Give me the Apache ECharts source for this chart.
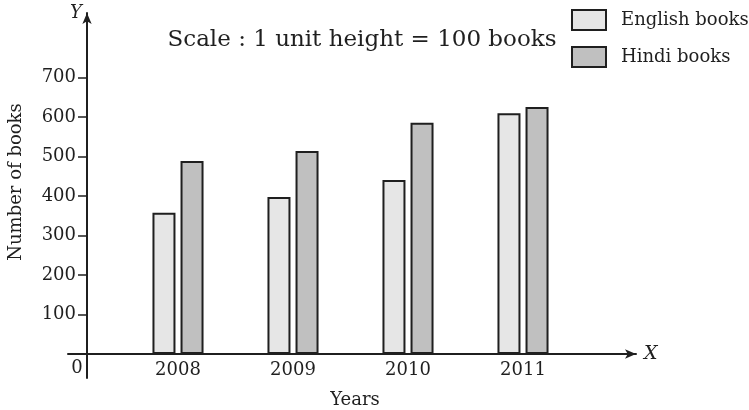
<!DOCTYPE html>
<html lang="en">
<head>
<meta charset="UTF-8">
<title>Books</title>
<style>html,body{margin:0;background:#fff}#chart{width:749px;height:410px}</style>
</head>
<body>
<div id="chart"></div>
<script src="https://cdn.jsdelivr.net/npm/echarts@6.0.0/dist/echarts.min.js"></script>
<script>
// data
const years = ['2008', '2009', '2010', '2011'];
const englishBooks = [358, 398, 441, 610];
const hindiBooks = [489, 514, 586, 626];

const ink = '#1f1f1f';
const font = 'DejaVu Serif';

const chart = echarts.init(document.getElementById('chart'));

const option = {
  animation: false,
  backgroundColor: '#fff',
  textStyle: { fontFamily: font, color: ink },
  legend: {
    orient: 'vertical',
    left: 571, top: 9,
    padding: 0,
    itemWidth: 34, itemHeight: 20, itemGap: 15,
    icon: 'rect',
    itemStyle: { borderColor: ink, borderWidth: 2 },
    textStyle: { fontFamily: font, fontSize: 18, color: ink, padding: [0, 0, 0, 10] },
    data: ['English books', 'Hindi books']
  },
  grid: [
    // frame for the axis lines (units = px)
    { left: 68, right: 113, top: 13, bottom: 32 },
    // plot area for the bars
    { left: 120.5, right: 168.5, top: 77.7, bottom: 56 }
  ],
  xAxis: [
    {
      gridIndex: 0, type: 'value', min: -19, max: 549,
      axisLine: { onZero: true, symbol: ['none', 'arrow'], symbolSize: [7, 11], lineStyle: { color: ink, width: 2 } },
      axisTick: { show: false }, axisLabel: { show: false }, splitLine: { show: false },
      name: 'X', nameLocation: 'end', nameGap: 8,
      nameTextStyle: { fontFamily: font, fontStyle: 'italic', fontSize: 19, color: ink, padding: [6, 0, 0, 0] }
    },
    {
      gridIndex: 1, type: 'category', data: years,
      axisLine: { show: false }, axisTick: { show: false },
      axisLabel: { fontFamily: font, fontSize: 18, color: ink, margin: 7 }
    }
  ],
  yAxis: [
    {
      gridIndex: 0, type: 'value', min: -24, max: 341,
      axisLine: { onZero: true, symbol: ['none', 'arrow'], symbolSize: [7, 11], lineStyle: { color: ink, width: 2 } },
      axisTick: { show: false }, axisLabel: { show: false }, splitLine: { show: false },
      name: 'Y', nameLocation: 'end', nameGap: 0,
      nameTextStyle: { fontFamily: font, fontStyle: 'italic', fontSize: 18, color: ink, align: 'right', verticalAlign: 'middle', padding: [0, 5, 0, 0] }
    },
    {
      gridIndex: 1, type: 'value', min: 0, max: 700, interval: 100, offset: 33.5,
      axisLine: { show: false },
      axisTick: { show: true, length: 9, lineStyle: { color: ink, width: 1.5 } },
      axisLabel: { fontFamily: font, fontSize: 18, color: ink, margin: 11, formatter: v => (v === 0 ? '' : v) },
      splitLine: { show: false }
    }
  ],
  graphic: [
    { type: 'text', x: 77, y: 368, style: { text: '0', font: '18px "DejaVu Serif"', fill: ink, align: 'center', verticalAlign: 'middle' } },
    { type: 'text', x: 362, y: 40, style: { text: 'Scale : 1 unit height = 100 books', font: '23px "DejaVu Serif"', fill: ink, align: 'center', verticalAlign: 'middle' } },
    { type: 'text', x: 16, y: 182, rotation: Math.PI / 2, style: { text: 'Number of books', font: '18px "DejaVu Serif"', fill: ink, align: 'center', verticalAlign: 'middle' } },
    { type: 'text', x: 355, y: 400, style: { text: 'Years', font: '18px "DejaVu Serif"', fill: ink, align: 'center', verticalAlign: 'middle' } }
  ],
  series: [
    {
      name: 'English books', type: 'bar', xAxisIndex: 1, yAxisIndex: 1,
      data: englishBooks, barWidth: 23, barGap: '22%',
      itemStyle: { color: '#e6e6e6', borderColor: ink, borderWidth: 2 }
    },
    {
      name: 'Hindi books', type: 'bar', xAxisIndex: 1, yAxisIndex: 1,
      data: hindiBooks, barWidth: 23, barGap: '22%',
      itemStyle: { color: '#c0c0c0', borderColor: ink, borderWidth: 2 }
    }
  ]
};

chart.setOption(option);
</script>
</body>
</html>
